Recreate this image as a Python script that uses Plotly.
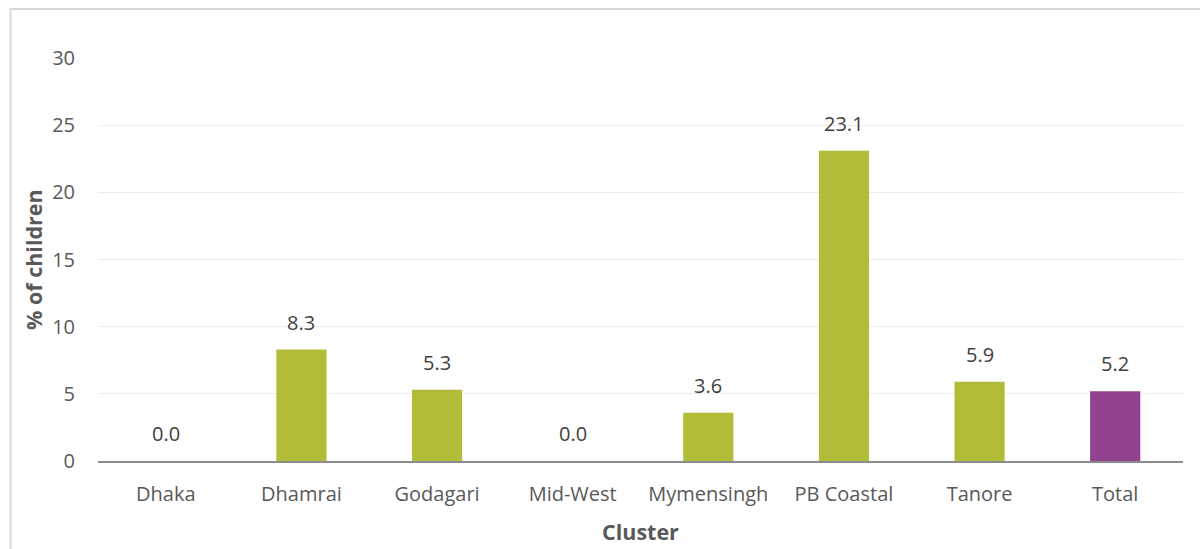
import plotly.graph_objects as go

# Share of children by cluster
clusters = ["Dhaka", "Dhamrai", "Godagari", "Mid-West", "Mymensingh", "PB Coastal", "Tanore", "Total"]
percent = [0.0, 8.3, 5.3, 0.0, 3.6, 23.1, 5.9, 5.2]
bar_colors = ["#B1BC38"] * 7 + ["#93428F"]

y_ticks = [0, 5, 10, 15, 20, 25, 30]

FONT = "Open Sans"
TEXT_GREY = "#595959"

fig = go.Figure()
fig.add_trace(go.Bar(
    x=clusters,
    y=percent,
    marker=dict(color=bar_colors, line=dict(width=0)),
    width=0.37,
    hoverinfo="x+y",
))

# value labels above each bar
annotations = [
    dict(x=c, y=v, xref="x", yref="y", text=f"{v:.1f}", showarrow=False,
         yanchor="bottom", yshift=12,
         font=dict(family=FONT, size=20, color="#404040"))
    for c, v in zip(clusters, percent)
]

# axis titles
annotations.append(dict(x=0.5, y=-0.174, xref="paper", yref="paper", text="<b>Cluster</b>",
                        showarrow=False, xanchor="center", yanchor="middle",
                        font=dict(family=FONT, size=21.5, color=TEXT_GREY)))
annotations.append(dict(x=-0.06, y=0.501, xref="paper", yref="paper", text="<b>% of children</b>",
                        showarrow=False, textangle=-90, xanchor="center", yanchor="middle",
                        font=dict(family=FONT, size=21.5, color=TEXT_GREY)))

# chart frame
shapes = [dict(type="rect", xref="paper", yref="paper",
               x0=-0.0806, x1=1.2, y0=-0.4, y1=1.1216,
               line=dict(color="#D9D9D9", width=2), fillcolor="rgba(0,0,0,0)", layer="below")]

fig.update_layout(
    width=1200, height=549,
    margin=dict(l=98, r=17, t=58, b=88),
    paper_bgcolor="white", plot_bgcolor="white",
    showlegend=False,
    bargap=0.63,
    font=dict(family=FONT, size=20, color=TEXT_GREY),
    annotations=annotations,
    shapes=shapes,
    xaxis=dict(
        showgrid=False, showline=True, linecolor="#8C8C8C", linewidth=1.5,
        ticks="", ticklabelstandoff=14,
        tickfont=dict(family=FONT, size=20, color=TEXT_GREY),
        fixedrange=True,
    ),
    yaxis=dict(
        range=[0, 30], tickvals=y_ticks, showgrid=True, gridcolor="#EDEDED", gridwidth=1,
        zeroline=False, showline=False, ticks="", ticklabelstandoff=22,
        tickfont=dict(family=FONT, size=20, color=TEXT_GREY),
        fixedrange=True,
    ),
)

fig.write_html("out.html")
